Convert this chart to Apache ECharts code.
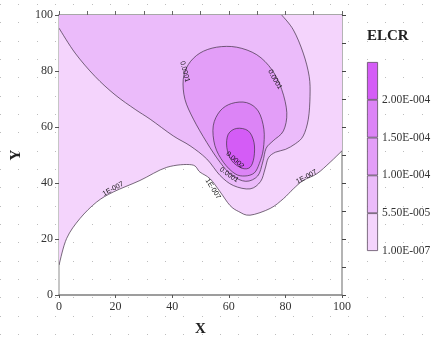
<!DOCTYPE html>
<html>
<head>
<meta charset="utf-8">
<script src="https://cdn.jsdelivr.net/npm/echarts@6/dist/echarts.min.js"></script>
<style>
html, body { margin: 0; padding: 0; background: #fff; }
#chart { width: 434px; height: 342px; }
</style>
</head>
<body>
<div id="chart"></div>
<script>
// legend levels (ELCR) and band colours, lowest first
const levelLabels = ['1.00E-007', '5.50E-005', '1.00E-004', '1.50E-004', '2.00E-004']
const bandColors = ['#f4d4fc', '#ebbbfa', '#e39ef8', '#dc84f6', '#d45cf6']
const xTicks = [0, 20, 40, 60, 80, 100]
const yTicks = [0, 20, 40, 60, 80, 100]

// contour lines, [x, y] in data units
const contour1e7 = [
    [0, 10.7], [2.7, 20.2], [7.4, 27.3], [13.3, 33.2], [19.2, 36.8], [28.6, 40.9],
    [38.1, 45.6], [46.9, 46.5], [49.8, 43.9], [53.4, 41.5], [56.9, 36.9], [60.4, 32],
    [63.5, 29.8], [67.5, 28.5], [74.6, 30.9], [79.3, 34.4], [82.8, 37.9], [86.3, 40.9],
    [91.1, 43.3], [95.8, 47.4], [100, 51.5]
]
const contour55e5 = [
    [0, 95.3], [5.7, 86.4], [12.7, 78.1], [19.8, 71.5], [26.9, 66.3], [32.2, 62.8],
    [40.4, 56.8], [46.3, 53.3], [52.2, 48.6], [56.9, 42.7], [61.6, 39.1], [67.5, 37.9],
    [71.2, 40.5], [72.8, 45], [74, 49], [76.5, 51], [80, 52], [83.5, 54], [86.3, 56.8],
    [88.1, 62.8], [88.7, 71], [88.4, 78.1], [86.3, 86.4], [82.8, 94.7], [78.7, 100]
]
const contour1e4 = [
    [43.9, 77], [45.7, 82.3], [49.8, 86.4], [55.7, 88.5], [62.8, 88.5], [69.9, 85.8],
    [75.2, 80.5], [78.7, 73.4], [80.5, 65.1], [79.3, 58.6], [75.7, 55.1], [73.2, 52.4],
    [72, 47.5], [70.2, 42.5], [66, 40.6], [61, 42.8], [56.9, 47.4], [52.2, 54.5],
    [47.5, 62.8], [44.5, 69.9]
]
const contour15e5 = [
    [54.5, 60.4], [56.9, 65.7], [61, 68.4], [66.3, 68.7], [70.4, 65.7], [72.4, 59.2],
    [72.2, 52.1], [70.8, 47], [69, 43.6], [65.7, 42.5], [62.2, 43.3], [58.1, 47.4],
    [55.1, 53.3]
]
const contour2e4 = [
    [59.8, 57.4], [62.8, 59.5], [66.9, 58.6], [68.9, 54.5], [68.9, 49.2], [67.5, 45.6],
    [64.6, 45.3], [61, 48], [59.3, 52.7]
]
// plot corners that close the open contours
const close1e7 = [[100, 100], [0, 100]]
const close55e5 = [[0, 100]]

// contour labels: x, y, text, angle in degrees
const contourLabels = [
    [19.1, 37.9, '1E-007', 28],
    [54.4, 37.9, '1E-007', -58],
    [87.5, 42.2, '1E-007', 28],
    [44.5, 79.8, '0.0001', -75],
    [76.3, 77, '0.0001', -60],
    [60.1, 42.9, '0.0001', -35],
    [62.2, 48.2, '0.0002', -42]
]

const serif = 'Liberation Serif'

// smooth path through pixel points (catmull-rom as bezier)
function curvePath(pts, closed) {
    const n = pts.length
    const at = (i) => closed ? pts[(i + n) % n] : pts[Math.max(0, Math.min(n - 1, i))]
    let d = 'M' + pts[0][0] + ' ' + pts[0][1]
    const segs = closed ? n : n - 1
    for (let i = 0; i < segs; i++) {
        const p0 = at(i - 1), p1 = at(i), p2 = at(i + 1), p3 = at(i + 2)
        const c1 = [p1[0] + (p2[0] - p0[0]) / 6, p1[1] + (p2[1] - p0[1]) / 6]
        const c2 = [p2[0] - (p3[0] - p1[0]) / 6, p2[1] - (p3[1] - p1[1]) / 6]
        d += ' C' + c1[0] + ' ' + c1[1] + ' ' + c2[0] + ' ' + c2[1] + ' ' + p2[0] + ' ' + p2[1]
    }
    return d
}

function bandSeries(line, corners, color, closed) {
    return {
        type: 'custom',
        xAxisIndex: 0,
        yAxisIndex: 0,
        silent: true,
        clip: true,
        data: [[0, 0]],
        renderItem: function (params, api) {
            const px = line.map((p) => api.coord(p))
            let d = curvePath(px, closed)
            let fillD = d
            if (!closed) {
                corners.forEach((c) => {
                    const q = api.coord(c)
                    fillD += ' L' + q[0] + ' ' + q[1]
                })
            }
            fillD += ' Z'
            return {
                type: 'group',
                children: [
                    { type: 'path', shape: { pathData: fillD }, style: { fill: color } },
                    {
                        type: 'path',
                        shape: { pathData: closed ? d + ' Z' : d },
                        style: { fill: 'none', stroke: '#3d2f42', lineWidth: 0.7 }
                    }
                ]
            }
        }
    }
}

const labelSeries = {
    type: 'custom',
    xAxisIndex: 0,
    yAxisIndex: 0,
    silent: true,
    data: contourLabels.map((l) => [l[0], l[1]]),
    renderItem: function (params, api) {
        const l = contourLabels[params.dataIndex]
        const p = api.coord([l[0], l[1]])
        return {
            type: 'text',
            x: p[0],
            y: p[1],
            rotation: l[3] * Math.PI / 180,
            style: {
                text: l[2],
                font: '7px "Liberation Sans"',
                fill: '#111',
                align: 'center',
                verticalAlign: 'middle'
            }
        }
    }
}

// faint dotted paper behind the chart
const dots = document.createElement('canvas')
dots.width = 55
dots.height = 55
const dctx = dots.getContext('2d')
dctx.fillStyle = '#bdbdbd'
;[0, 18, 37].forEach((x) => [4, 22, 41].forEach((y) => dctx.fillRect(x, y, 1, 1)))

const chart = echarts.init(document.getElementById('chart'))

const legendSeries = bandColors.map((c) => ({
    type: 'bar',
    xAxisIndex: 2,
    yAxisIndex: 2,
    stack: 'cb',
    barWidth: '100%',
    silent: true,
    itemStyle: { color: c, borderColor: '#5e4c62', borderWidth: 0.8 },
    data: [1]
}))

chart.setOption({
    animation: false,
    backgroundColor: { image: dots, repeat: 'repeat' },
    title: {
        text: 'ELCR',
        left: 362,
        top: 24,
        textStyle: { fontFamily: serif, fontWeight: 'bold', fontSize: 15, color: '#222' }
    },
    grid: [
        { left: 59, right: 92, top: 15, bottom: 45 },
        { left: 367, top: 62, width: 11, height: 189 }
    ],
    xAxis: [
        {
            type: 'value', min: 0, max: 100, interval: 20, gridIndex: 0,
            axisLine: { onZero: false, lineStyle: { color: '#7d7d7d', width: 1.5 } },
            axisTick: { show: true, length: 3, lineStyle: { color: '#555' } },
            axisLabel: {
                fontFamily: serif, fontSize: 12, color: '#333', margin: 6,
                formatter: (v) => xTicks.includes(v) ? String(v) : ''
            },
            splitLine: { show: false },
            name: 'X', nameLocation: 'middle', nameGap: 27,
            nameTextStyle: { fontFamily: serif, fontWeight: 'bold', fontSize: 15, color: '#222' }
        },
        {
            type: 'value', min: 0, max: 100, interval: 10, gridIndex: 0, position: 'top',
            axisLine: { onZero: false, lineStyle: { color: '#8a8a8a', width: 1.5 } },
            axisTick: { show: true, length: 4, lineStyle: { color: '#666' } },
            axisLabel: { show: false },
            splitLine: { show: false }
        },
        {
            type: 'category', gridIndex: 1, data: [''],
            show: false
        }
    ],
    yAxis: [
        {
            type: 'value', min: 0, max: 100, interval: 20, gridIndex: 0,
            axisLine: { show: true, onZero: false, lineStyle: { color: '#c6c6c6', width: 2 } },
            axisTick: { show: true, length: 4, lineStyle: { color: '#555' } },
            axisLabel: {
                fontFamily: serif, fontSize: 12, color: '#333', margin: 6,
                formatter: (v) => yTicks.includes(v) ? String(v) : ''
            },
            splitLine: { show: false },
            name: 'Y', nameLocation: 'middle', nameGap: 34,
            nameTextStyle: { fontFamily: serif, fontWeight: 'bold', fontSize: 15, color: '#222' }
        },
        {
            type: 'value', min: 0, max: 100, interval: 10, gridIndex: 0, position: 'right',
            axisLine: { show: true, onZero: false, lineStyle: { color: '#b4b4b4', width: 2 } },
            axisTick: { show: true, length: 4, lineStyle: { color: '#444' } },
            axisLabel: { show: false },
            splitLine: { show: false }
        },
        {
            type: 'value', min: 0, max: 5, interval: 1, gridIndex: 1, position: 'right',
            axisLine: { show: false },
            axisTick: { show: false },
            splitLine: { show: false },
            axisLabel: {
                fontFamily: serif, fontSize: 11.5, color: '#333', margin: 4,
                formatter: (v) => levelLabels[v] || ''
            }
        }
    ],
    series: [
        bandSeries(contour1e7, close1e7, bandColors[0], false),
        bandSeries(contour55e5, close55e5, bandColors[1], false),
        bandSeries(contour1e4, [], bandColors[2], true),
        bandSeries(contour15e5, [], bandColors[3], true),
        bandSeries(contour2e4, [], bandColors[4], true),
        labelSeries
    ].concat(legendSeries)
})
</script>
</body>
</html>
